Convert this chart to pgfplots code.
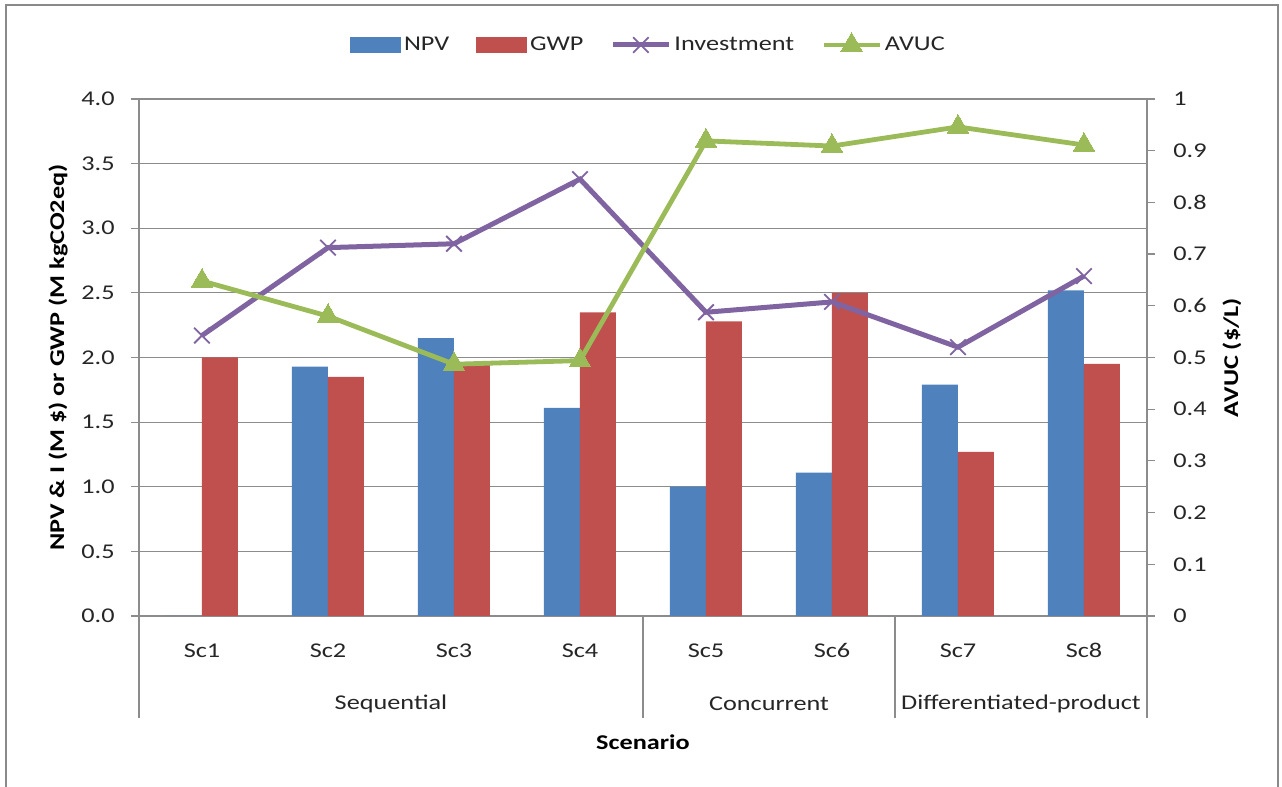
\documentclass[border=0pt]{standalone}
\usepackage{pgfplots}
\pgfplotsset{compat=1.18}
\usepackage{fontspec}
\setmainfont[FakeStretch=1.25]{Carlito}
\definecolor{npv}{HTML}{4F81BD}
\definecolor{gwp}{HTML}{C0504D}
\definecolor{inv}{HTML}{8064A2}
\definecolor{avuc}{HTML}{9BBB59}
\definecolor{gridc}{HTML}{8C8C8C}
\definecolor{framec}{HTML}{8A8A8A}
\pgfplotsset{
  midmark legend/.style={legend image code/.code={\draw[mark repeat=2, mark phase=2, ##1] plot coordinates {(0pt,0pt) (14pt,0pt) (28pt,0pt)};}},
  npvlegend/.style={legend image code/.code={\fill[npv] (0pt,-3.75pt) rectangle (25pt,3.75pt);}},
  gwplegend/.style={legend image code/.code={\fill[gwp] (0pt,-3.75pt) rectangle (25pt,3.75pt);}},
}

\begin{document}
\fontsize{10.5}{12.6}\selectfont
\begin{tikzpicture}
\useasboundingbox (0,0) rectangle (641pt,393.5pt);
\draw[framec, line width=1.1pt] (3pt,-5pt) -- (3pt,391pt) -- (639pt,391pt) -- (639pt,-5pt);

\begin{axis}[
  at={(69.5pt,85.5pt)}, anchor=south west,
  scale only axis, width=504pt, height=258.5pt,
  xmin=-0.5, xmax=7.5, ymin=0, ymax=4,
  clip=false,
  axis x line*=bottom, axis y line*=left,
  axis line style={-, gridc, line width=0.6pt},
  ytick={0,0.5,1,1.5,2,2.5,3,3.5,4},
  yticklabel style={/pgf/number format/fixed, /pgf/number format/fixed zerofill, /pgf/number format/precision=1, xshift=-4.5pt},
  /pgf/number format/assume math mode=true,
  ymajorgrids, major grid style={gridc, line width=0.6pt},
  tick align=outside, major tick length=4pt,
  tick style={gridc, line width=0.6pt},
  xtick={0,1,2,3,4,5,6,7},
  xticklabels={Sc1,Sc2,Sc3,Sc4,Sc5,Sc6,Sc7,Sc8},
  xtick style={draw=none},
  xticklabel style={yshift=-6pt},
  tick label style={font=\fontsize{10.5}{12.6}\selectfont, text=black!85},
]
\addplot[ybar, bar width=18pt, bar shift=-9pt, fill=npv, draw=none]
  coordinates {(0,0) (1,1.93) (2,2.15) (3,1.61) (4,1.00) (5,1.11) (6,1.79) (7,2.52)};
\addplot[ybar, bar width=18pt, bar shift=9pt, fill=gwp, draw=none]
  coordinates {(0,2.00) (1,1.85) (2,1.95) (3,2.35) (4,2.28) (5,2.50) (6,1.27) (7,1.95)};
\addplot[inv, line width=2.5pt, mark=x, mark size=5.5pt, mark options={line width=0.9pt}]
  coordinates {(0,2.17) (1,2.85) (2,2.88) (3,3.38) (4,2.35) (5,2.43) (6,2.08) (7,2.63)};

\draw[gridc, line width=0.6pt] (axis cs:-0.5,0) -- ++(0pt,-51pt);
\draw[gridc, line width=0.6pt] (axis cs:3.5,0) -- ++(0pt,-51pt);
\draw[gridc, line width=0.6pt] (axis cs:5.5,0) -- ++(0pt,-51pt);
\draw[gridc, line width=0.6pt] (axis cs:7.5,0) -- ++(0pt,-51pt);
\node[text=black!85] at ([yshift=-44pt]axis cs:1.5,0) {Sequential};
\node[text=black!85] at ([yshift=-44pt]axis cs:4.5,0) {Concurrent};
\node[text=black!85] at ([yshift=-44pt]axis cs:6.5,0) {Differentiated-product};
\node at ([yshift=-63pt]axis cs:3.5,0) {\bfseries Scenario};
\node[rotate=90] at ([xshift=-40.5pt]rel axis cs:0,0.5) {\bfseries NPV \& I (M \$) or GWP (M kgCO2eq)};
\end{axis}

\begin{axis}[
  at={(69.5pt,85.5pt)}, anchor=south west,
  scale only axis, width=504pt, height=258.5pt,
  xmin=-0.5, xmax=7.5, ymin=0, ymax=1,
  clip=false,
  axis x line=none, axis y line*=right,
  axis line style={-, gridc, line width=0.6pt},
  ytick={0,0.1,0.2,0.3,0.4,0.5,0.6,0.7,0.8,0.9,1},
  /pgf/number format/assume math mode=true,
  tick align=outside, major tick length=4pt,
  tick style={gridc, line width=0.6pt},
  yticklabel style={xshift=5.5pt},
  tick label style={font=\fontsize{10.5}{12.6}\selectfont, text=black!85},
  legend columns=4,
  legend style={at={(0.5,1)}, anchor=center, xshift=3pt, yshift=27.5pt,
    draw=none, fill=none, font=\fontsize{10.5}{12.6}\selectfont,
    nodes={inner xsep=1.5pt, inner ysep=1pt, text=black!85},
    /tikz/every even column/.append style={column sep=12pt}},
]
\addlegendimage{npvlegend}
\addlegendimage{gwplegend}
\addlegendimage{inv, line width=2.5pt, mark=x, mark size=5.5pt, mark options={line width=0.9pt}, midmark legend}
\addplot[avuc, line width=2.4pt, mark=triangle*, mark size=6.2pt, mark options={fill=avuc, draw=avuc, line width=0pt}, midmark legend]
  coordinates {(0,0.648) (1,0.580) (2,0.487) (3,0.494) (4,0.919) (5,0.909) (6,0.946) (7,0.911)};
\legend{NPV,GWP,Investment,AVUC}
\node[rotate=90] at ([xshift=42.5pt]rel axis cs:1,0.5) {\bfseries AVUC (\$/L)};
\end{axis}
\end{tikzpicture}
\end{document}
